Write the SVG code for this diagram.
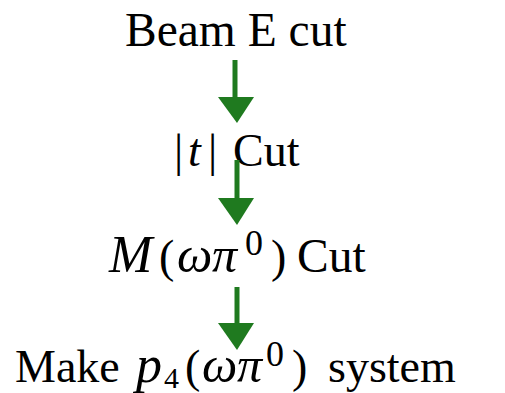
<svg xmlns="http://www.w3.org/2000/svg" width="505" height="393" viewBox="0 0 505 393">
<style>
.t{font-family:"Liberation Serif","Times New Roman",serif;font-size:46px;fill:#000}
.m{font-style:italic}
.g{font-style:italic;font-size:50px}
.big{font-style:italic;font-size:52px}
.s{font-size:36px}
.sh{stroke:#1f7a1f;stroke-width:5;fill:none}
.hd{fill:#1f7a1f}
</style>
<rect width="505" height="393" fill="#fff"/>
<g id="n1"><text class="t" x="125" y="46" style="font-size:47.5px">Beam E cut</text></g>
<g id="n2"><text class="t" y="166"><tspan x="174">|</tspan><tspan class="m" x="188">t</tspan><tspan x="208">|</tspan><tspan x="233">Cut</tspan></text></g>
<g id="n3"><text class="t" y="272"><tspan class="big" x="109">M</tspan><tspan x="159">(</tspan><tspan class="g" x="177">ω</tspan><tspan class="g" x="212">π</tspan><tspan class="s" x="245" y="255">0</tspan><tspan x="271" y="272">)</tspan><tspan x="297" style="font-size:47.5px">Cut</tspan></text></g>
<g id="n4"><text class="t" y="382"><tspan x="15">Make</tspan><tspan class="big" x="136">p</tspan><tspan class="s" style="font-size:30px" x="164" y="388">4</tspan><tspan x="185" y="382">(</tspan><tspan class="g" x="202">ω</tspan><tspan class="g" x="237">π</tspan><tspan class="s" x="266" y="366">0</tspan><tspan x="292" y="382">)</tspan><tspan x="328">system</tspan></text></g>
<g id="connectors">
<path class="sh" d="M235 60V100"/><path class="hd" d="M218 97H254L237 123Z"/>
<path class="sh" d="M237 160V202"/><path class="hd" d="M218 198H254L237 225Z"/>
<path class="sh" d="M237 287V326"/><path class="hd" d="M218 323H254L237 350Z"/>
</g>
</svg>
